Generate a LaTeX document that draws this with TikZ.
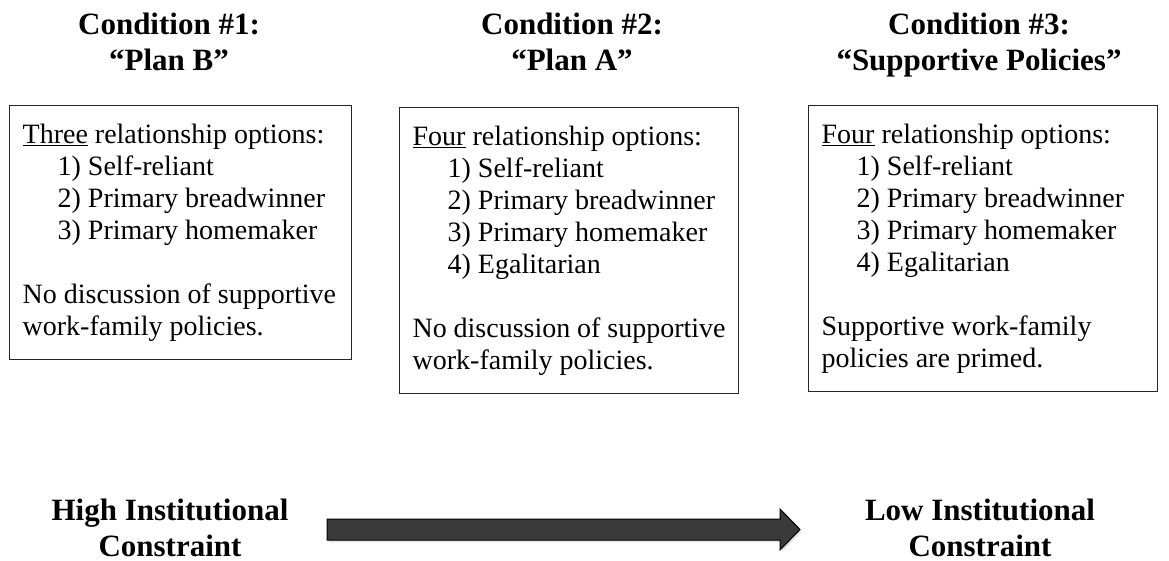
\documentclass[tikz,border=0pt]{standalone}
\usepackage{fontspec}
\setmainfont{Liberation Serif}
\usetikzlibrary{calc,shadows}
\definecolor{arrgray}{RGB}{58,58,58}
\tikzset{
	head/.style={font=\fontsize{31}{36}\selectfont\bfseries, align=center, inner sep=0pt, anchor=north},
	optbox/.style={draw=black!85, line width=1.3pt, anchor=north west, align=flush left, inner xsep=13pt, inner ysep=15pt, font=\fontsize{28}{32}\selectfont},
	bigarrow/.style={fill=arrgray, draw=black, line width=1pt, drop shadow={opacity=0.25, shadow xshift=1.5pt, shadow yshift=-2pt}}
}
\newcommand{\itm}[1]{\hspace*{35pt}#1}
\begin{document}
\begin{tikzpicture}[x=1pt,y=-1pt]
	\useasboundingbox (0,0) rectangle (1169,561);
	% condition headings
	\node[head] (c1) at (169,9) {\strut Condition \#1:\\``Plan B''};
	\node[head] (c2) at (572,9) {\strut Condition \#2:\\``Plan A''};
	\node[head] (c3) at (979,9) {\strut Condition \#3:\\``Supportive Policies''};
	% option boxes
	\node[optbox, text width=316pt] (b1) at (9,105) {\strut\underline{Three} relationship options:\\\itm{1) Self-reliant}\\\itm{2) Primary breadwinner}\\\itm{3) Primary homemaker}\\[32pt]No discussion of supportive\\work-family policies.\strut};
	\node[optbox, text width=313pt] (b2) at (399,107) {\strut\underline{Four} relationship options:\\\itm{1) Self-reliant}\\\itm{2) Primary breadwinner}\\\itm{3) Primary homemaker}\\\itm{4) Egalitarian}\\[32pt]No discussion of supportive\\work-family policies.\strut};
	\node[optbox, text width=323pt] (b3) at (808,105) {\strut\underline{Four} relationship options:\\\itm{1) Self-reliant}\\\itm{2) Primary breadwinner}\\\itm{3) Primary homemaker}\\\itm{4) Egalitarian}\\[32pt]Supportive work-family\\policies are primed.\strut};
	% constraint scale
	\node[head] (hi) at (170,495) {\strut High Institutional\\Constraint};
	\node[head] (lo) at (980,495) {\strut Low Institutional\\Constraint};
	\coordinate (tail) at (327,529.5);
	\coordinate (tip) at (800,529.5);
	\filldraw[bigarrow] ($(tail)+(0,-10.5)$) -- ($(tip)+(-20,-10.5)$) -- ($(tip)+(-20,-20.5)$) -- (tip) -- ($(tip)+(-20,20.5)$) -- ($(tip)+(-20,10.5)$) -- ($(tail)+(0,10.5)$) -- cycle;
\end{tikzpicture}
\end{document}
